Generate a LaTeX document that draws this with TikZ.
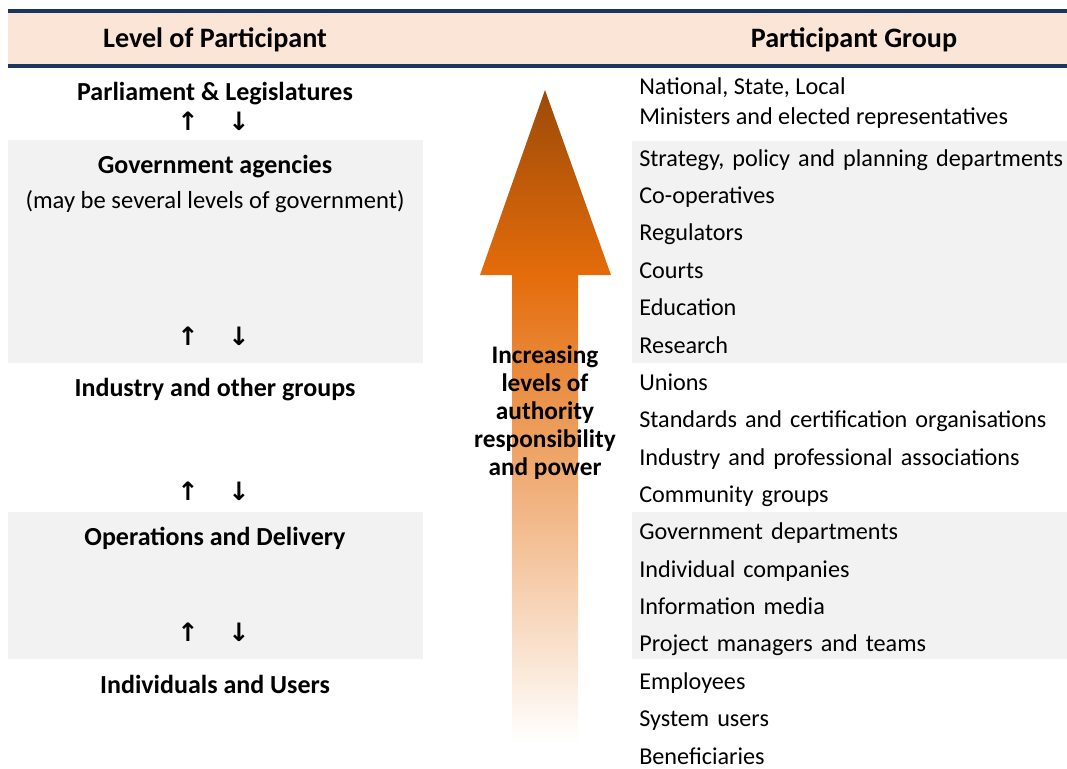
\documentclass[tikz,border=0pt]{standalone}
\usepackage{fontspec}
\setmainfont{Carlito}
\newfontfamily\symbolfont{DejaVu Sans}
\usepackage{tikz}
\usetikzlibrary{positioning}
\hyphenpenalty=10000
\definecolor{headfill}{HTML}{FBE5D6}
\definecolor{headrule}{HTML}{1B3563}
\definecolor{rowgray}{HTML}{F2F2F2}
\definecolor{arrowdark}{HTML}{9C4A09}
\definecolor{arroworange}{HTML}{E46C0A}
\pgfdeclareverticalshading{authorityfade}{100bp}{color(0bp)=(white); color(25bp)=(white);
        color(60.8bp)=(arroworange); color(75bp)=(arrowdark); color(100bp)=(arrowdark)}
\tikzstyle{heading}=[font=\bfseries\fontsize{20}{24}\selectfont, anchor=base, inner sep=0pt]
\tikzstyle{level}=[font=\bfseries\fontsize{18.5}{22}\selectfont, anchor=base, inner sep=0pt]
\tikzstyle{note}=[font=\fontsize{17.5}{21}\selectfont, anchor=base, inner sep=0pt]
\tikzstyle{updown}=[font=\symbolfont\bfseries\fontsize{18}{18}\selectfont, inner sep=0pt]
\tikzstyle{group}=[font=\fontsize{17.2}{21}\selectfont, anchor=base west, inner sep=0pt]
\tikzstyle{cell}=[font=\fontsize{17.2}{21}\selectfont, inner xsep=0.175cm,
        inner ysep=0pt, text width=10.6cm, align=left, minimum height=0.92cm, text height=14pt,
        text depth=4.8pt]
\tikzstyle{powertext}=[font=\bfseries\fontsize{18}{19.9}\selectfont, align=center, inner sep=0pt]

\begin{document}
\begin{tikzpicture}[x=0.025cm, y=-0.025cm]
    \useasboundingbox (0,0) rectangle (1067,769);
    \fill[headfill] (8,11) rectangle (1067,66);
    \draw[headrule, line width=2.4pt] (8,11) -- (1067,11);
    \draw[headrule, line width=2.4pt] (8,66) -- (1067,66);
    \fill[rowgray] (8,140) rectangle (423,363);
    \fill[rowgray] (8,512) rectangle (423,659);
    \fill[rowgray] (632,141) rectangle (1067,363);
    \fill[rowgray] (632,512) rectangle (1067,659);
    \shade[shading=authorityfade] (545,90) -- (611,275) -- (578,275) -- (578,742)
        -- (512,742) -- (512,275) -- (480,275) -- cycle;

    \node (LevelHead) [heading] at (215,47) {Level of Participant};
    \node (GroupHead) [heading] at (854,47) {Participant Group};

    \node (Parliament) [level] at (215,100) {Parliament \& Legislatures};
    \node (Agencies) [level] at (215,173) {Government agencies};
    \node (AgenciesNote) [note] at (215,208) {(may be several levels of government)};
    \node (Industry) [level] at (215,396) {Industry and other groups};
    \node (Operations) [level] at (215,545) {Operations and Delivery};
    \node (Individuals) [level] at (215,693) {Individuals and Users};

    \node (UpA) [updown] at (188,121) {↑};
    \node (DownA) [updown] at (239,121) {↓};
    \node (UpB) [updown] at (188,336) {↑};
    \node (DownB) [updown] at (239,336) {↓};
    \node (UpC) [updown] at (188,491) {↑};
    \node (DownC) [updown] at (239,491) {↓};
    \node (UpD) [updown] at (188,632) {↑};
    \node (DownD) [updown] at (239,632) {↓};

    \node (Power) [powertext] at (545,413)
        {Increasing\\levels of\\authority\\responsibility\\and power};

    \node (National) [group] at (639,94) {National, State, Local};
    \node (Ministers) [group] at (639,124) {Ministers and elected representatives};
    \node (Strategy) [cell, anchor=north west] at (632,141) {Strategy, policy and planning departments};
    \node (Cooperatives) [cell, below=0pt of Strategy] {Co-operatives};
    \node (Regulators) [cell, below=0pt of Cooperatives] {Regulators};
    \node (Courts) [cell, below=0pt of Regulators] {Courts};
    \node (Education) [cell, below=0pt of Courts] {Education};
    \node (Research) [cell, below=0pt of Education] {Research};
    \node (Unions) [cell, below=0pt of Research] {Unions};
    \node (Standards) [cell, below=0pt of Unions] {Standards and certification organisations};
    \node (Associations) [cell, below=0pt of Standards] {Industry and professional associations};
    \node (Community) [cell, below=0pt of Associations] {Community groups};
    \node (Departments) [cell, below=0pt of Community] {Government departments};
    \node (Companies) [cell, below=0pt of Departments] {Individual companies};
    \node (Media) [cell, below=0pt of Companies] {Information media};
    \node (Teams) [cell, below=0pt of Media] {Project managers and teams};
    \node (Employees) [cell, below=0pt of Teams] {Employees};
    \node (Users) [cell, below=0pt of Employees] {System users};
    \node (Beneficiaries) [cell, below=0pt of Users] {Beneficiaries};
\end{tikzpicture}
\end{document}
